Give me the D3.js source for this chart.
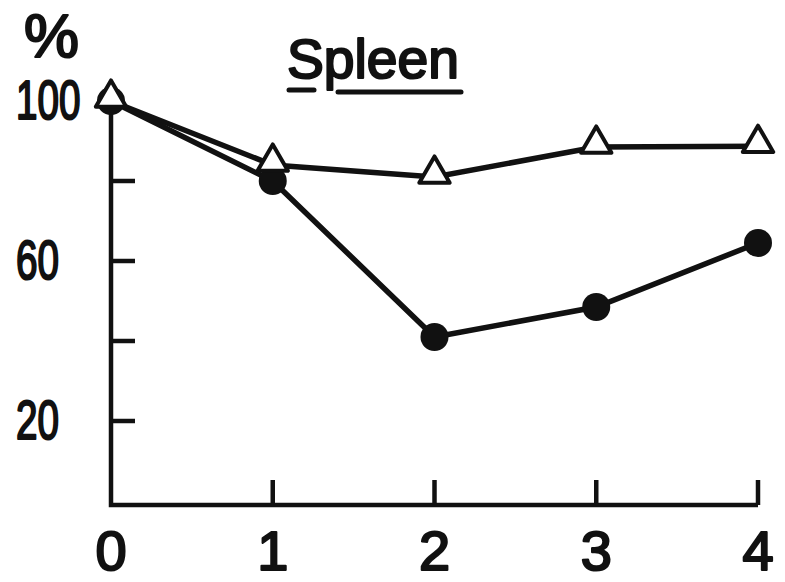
<!DOCTYPE html>
<html><head><meta charset="utf-8">
<script src="https://cdn.jsdelivr.net/npm/d3@7/dist/d3.min.js"></script>
<style>body{margin:0;background:#fff}svg{display:block}</style>
</head><body>
<svg id="c" width="785" height="582"></svg>
<script>
const days = [0, 1, 2, 3, 4];
const filledCircle = [100, 80, 41, 48.5, 64.5];
const openTriangle = [100, 84, 81, 88.5, 88.7];
const yTicks = [20, 40, 60, 80];
const yLabels = [100, 60, 20];
const title = "Spleen";

const svg = d3.select("#c");
const ink = "#111";
const x = d3.scaleLinear().domain([0, 4]).range([111, 758]);
const y = d3.scaleLinear().domain([-1, 100]).range([505, 101]);
const font = "'Liberation Sans',Arial,sans-serif";

// axes
const ax = svg.append("g").attr("fill", "none").attr("stroke", ink).attr("stroke-width", 4.5);
ax.append("path").attr("d", `M${x(0)},${y(100)}V${y(-1)}H${x(4)}`).attr("stroke-linejoin", "miter");
yTicks.forEach(t => ax.append("line").attr("x1", x(0)).attr("x2", x(0) + 24).attr("y1", y(t)).attr("y2", y(t)));
days.slice(1).forEach(d => ax.append("line").attr("x1", x(d)).attr("x2", x(d)).attr("y1", y(-1)).attr("y2", y(-1) - 25));

// tick labels
function label(sel) {
  return sel.attr("font-family", font).attr("font-size", 56)
    .attr("fill", ink).attr("stroke", ink).attr("stroke-width", 2.2).attr("stroke-linejoin", "round");
}
yLabels.forEach(v => {
  const s = String(v);
  label(svg.append("text").attr("x", 16).attr("y", y(v) + 18))
    .attr("textLength", s.length * 21.5).attr("lengthAdjust", "spacingAndGlyphs").text(s);
});
days.forEach(d => {
  label(svg.append("text").attr("x", x(d)).attr("y", 570).attr("text-anchor", "middle")).text(String(d));
});
label(svg.append("text").attr("x", 24).attr("y", 57)).attr("font-size", 62)
  .attr("textLength", 55).attr("lengthAdjust", "spacingAndGlyphs").text("%");

// title
svg.append("text").attr("x", 287).attr("y", 78)
  .attr("font-family", font).attr("font-size", 56)
  .attr("stroke", ink).attr("stroke-width", 2.2).attr("stroke-linejoin", "round")
  .attr("textLength", 172).attr("lengthAdjust", "spacingAndGlyphs")
  .attr("fill", ink).text(title);
svg.append("line").attr("x1", 289).attr("x2", 314).attr("y1", 90).attr("y2", 90).attr("stroke", ink).attr("stroke-width", 5).attr("stroke-linecap", "round");
svg.append("line").attr("x1", 338).attr("x2", 461).attr("y1", 92).attr("y2", 92).attr("stroke", ink).attr("stroke-width", 5).attr("stroke-linecap", "round");

// lines
const line = d3.line().x((d, i) => x(days[i])).y(d => y(d));
svg.append("path").attr("d", line(openTriangle)).attr("fill", "none").attr("stroke", ink).attr("stroke-width", 5.5);
svg.append("path").attr("d", line(filledCircle)).attr("fill", "none").attr("stroke", ink).attr("stroke-width", 5.5);

// markers
svg.selectAll("circle.f").data(filledCircle).join("circle").attr("class", "f")
  .attr("cx", (d, i) => x(days[i])).attr("cy", d => y(d)).attr("r", 14).attr("fill", ink);
const tri = d3.symbol().type(d3.symbolTriangle).size(400);
svg.selectAll("path.t").data(openTriangle).join("path").attr("class", "t")
  .attr("d", tri).attr("transform", (d, i) => `translate(${x(days[i])},${y(d) - 3})`)
  .attr("fill", "#fff").attr("stroke", ink).attr("stroke-width", 4).attr("stroke-linejoin", "round");
</script>
</body></html>
